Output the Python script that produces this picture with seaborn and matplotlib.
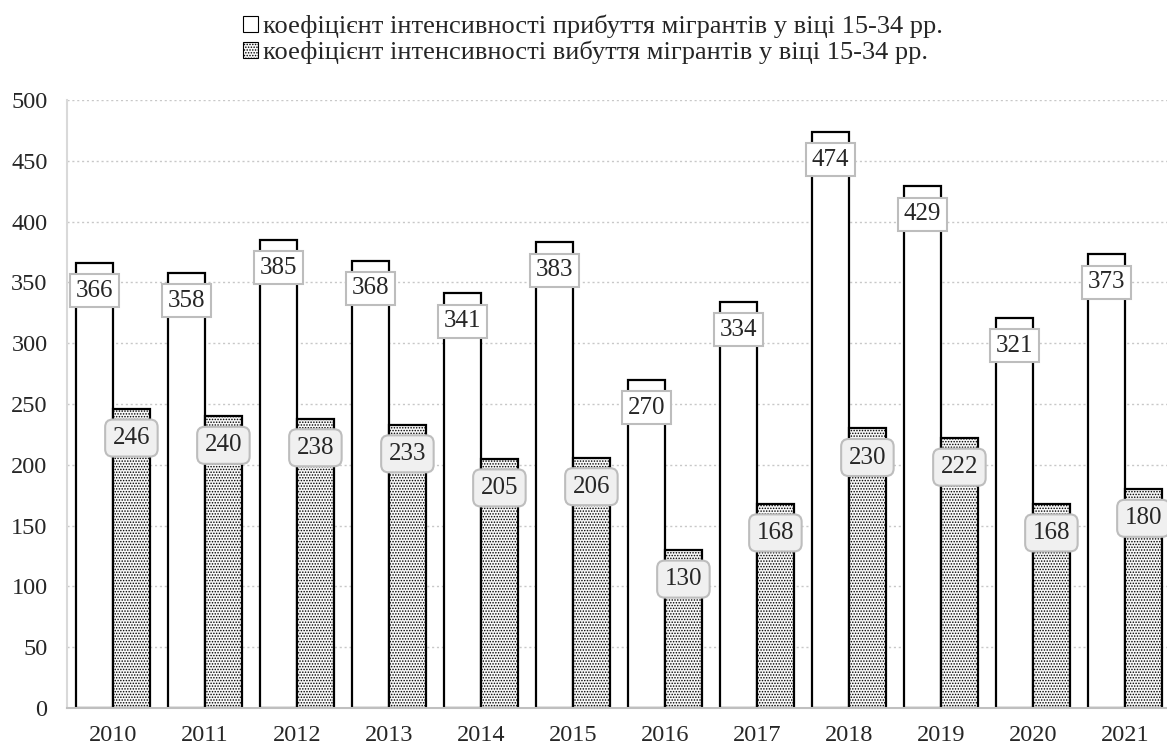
import pandas as pd
import numpy as np
import matplotlib.pyplot as plt
import seaborn as sns
from matplotlib.patches import Patch

# Data
years = ['2010', '2011', '2012', '2013', '2014', '2015', '2016', '2017', '2018', '2019', '2020', '2021']
arrival = [366, 358, 385, 368, 341, 383, 270, 334, 474, 429, 321, 373]
departure = [246, 240, 238, 233, 205, 206, 130, 168, 230, 222, 168, 180]
label_in = 'коефіцієнт інтенсивності прибуття мігрантів у віці 15-34 рр.'
label_out = 'коефіцієнт інтенсивності вибуття мігрантів у віці 15-34 рр.'

df = pd.DataFrame({'year': years * 2,
                   'value': arrival + departure,
                   'series': [label_in] * len(years) + [label_out] * len(years)})

sns.set_style('white')
plt.rcParams['font.family'] = ['Liberation Serif', 'DejaVu Serif']
plt.rcParams['hatch.color'] = '#bcbcbc'
plt.rcParams['hatch.linewidth'] = 0.7

fig = plt.figure(figsize=(11.67, 7.47), dpi=100)
ax = fig.add_axes([67 / 1167, 39 / 747, 1104 / 1167, 608 / 747])

sns.barplot(data=df, x='year', y='value', hue='series', ax=ax,
            palette=['white', '#f8f8f8'], edgecolor='black', linewidth=1.6,
            width=0.8, saturation=1, legend=False)

n = len(years)
for i, p in enumerate(ax.patches[:2 * n]):
    if i >= n:
        p.set_hatch('......')

# Value labels
for i, p in enumerate(ax.patches[:2 * n]):
    cx = p.get_x() + p.get_width() / 2
    h = p.get_height()
    if i < n:
        ax.text(cx, h - 23, f'{int(h)}', ha='center', va='center', fontsize=18,
                bbox=dict(boxstyle='square,pad=0.22', fc='white', ec='#bdbdbd', lw=1.5))
    else:
        ax.text(cx, h - 24, f'{int(h)}', ha='center', va='center', fontsize=18,
                bbox=dict(boxstyle='round,pad=0.3', fc='#f0f0f0', ec='#bdbdbd', lw=1.5))

ax.set_ylim(0, 500)
ax.set_xlim(-0.5, n - 0.5)
ax.set_yticks(range(0, 501, 50))
ax.yaxis.grid(True, linestyle=(0, (1.5, 2)), color='#c8c8c8', linewidth=1)
ax.set_axisbelow(True)
ax.set_xlabel('')
ax.set_ylabel('')
ax.tick_params(axis='both', labelsize=17.5, length=0)
ax.tick_params(axis='x', pad=12)
ax.tick_params(axis='y', pad=14)
for s in ['top', 'right']:
    ax.spines[s].set_visible(False)
ax.spines['left'].set_color('#d9d9d9')
ax.spines['left'].set_linewidth(1.5)
ax.spines['bottom'].set_color('#bfbfbf')
ax.spines['bottom'].set_linewidth(1.5)

handles = [Patch(facecolor='white', edgecolor='black', lw=0.8, label=label_in),
           Patch(facecolor='#f8f8f8', edgecolor='black', lw=0.8, hatch='......', label=label_out)]
fig.legend(handles=handles, loc='upper center', bbox_to_anchor=(0.508, 1.012), ncol=1,
           frameon=False, fontsize=19, handlelength=0.55, handleheight=0.55,
           handletextpad=0.2, labelspacing=0.08)

fig.savefig('out.png', dpi=100)
